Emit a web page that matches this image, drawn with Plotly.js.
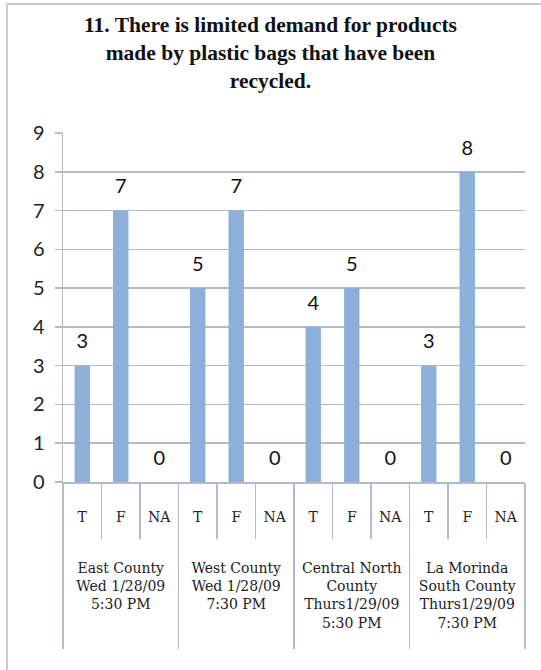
<!DOCTYPE html>
<html>
<head>
<meta charset="utf-8">
<script src="https://cdn.plot.ly/plotly-3.0.1.min.js"></script>
<style>
html,body{margin:0;padding:0;background:#fff;}
#wrap{position:relative;width:541px;height:670px;overflow:hidden;}
#chart{width:541px;height:670px;}
#frame{position:absolute;left:6px;top:3px;width:600px;height:700px;border:2px solid #c9cad6;box-sizing:border-box;pointer-events:none;}
</style>
</head>
<body>
<div id="wrap">
<div id="chart"></div>
<div id="frame"></div>
</div>
<script>
var groups = [
  "East County<br>Wed 1/28/09<br>5:30 PM",
  "West County<br>Wed 1/28/09<br>7:30 PM",
  "Central North<br>County<br>Thurs1/29/09<br>5:30 PM",
  "La Morinda<br>South County<br>Thurs1/29/09<br>7:30 PM"
];
var answers = ["T", "F", "NA"];
var counts = [
  [3, 7, 0],
  [5, 7, 0],
  [4, 5, 0],
  [3, 8, 0]
];
var yTicks = [0, 1, 2, 3, 4, 5, 6, 7, 8, 9];

// blank lines push the group labels below the T/F/NA row (presentation only)
var NB = "\u00a0";
function groupLabel(g) {
  return NB + "<br>" + NB + "<br>" + NB + "<br>" + g + "<br>" + NB;
}

var xGroup = [], xSub = [], yVal = [], yText = [];
groups.forEach(function (g, gi) {
  answers.forEach(function (a, ai) {
    xGroup.push(groupLabel(g));
    xSub.push(a);
    yVal.push(counts[gi][ai]);
    yText.push(String(counts[gi][ai]));
  });
});
var nCat = xSub.length;

var gridCol = "#b5b9cc";

var bars = {
  type: "bar",
  x: [xGroup, xSub],
  y: yVal,
  marker: {color: "#8db0db", line: {width: 0}},
  hoverinfo: "skip",
  showlegend: false
};
var labels = {
  type: "scatter",
  mode: "markers+text",
  x: [xGroup, xSub],
  y: yVal,
  text: yText,
  textposition: "top center",
  textfont: {family: "Lato, 'Liberation Sans', sans-serif", size: 20, color: "#111"},
  marker: {size: 18, opacity: 0},
  cliponaxis: false,
  hoverinfo: "skip",
  showlegend: false
};

var layout = {
  width: 541,
  height: 670,
  paper_bgcolor: "#fff",
  plot_bgcolor: "#fff",
  margin: {l: 63, r: 16, t: 133, b: 188},
  bargap: 0.6,
  title: {
    text: "<b>11. There is limited demand for products<br>made by plastic bags that have been<br>recycled.</b>",
    font: {family: "'Liberation Serif', 'DejaVu Serif', serif", size: 21.5, color: "#111"},
    x: 0.5, xanchor: "center", xref: "container",
    y: 0.952, yanchor: "top", yref: "container"
  },
  xaxis: {
    type: "multicategory",
    range: [-0.5, nCat - 0.5],
    autorange: false,
    showline: true, linecolor: gridCol, linewidth: 1.5,
    ticks: "outside", tickson: "boundaries", ticklen: 55, tickcolor: gridCol, tickwidth: 1.2,
    ticklabelstandoff: 22,
    showdividers: true, dividercolor: gridCol, dividerwidth: 1.5,
    tickfont: {family: "'DejaVu Serif', serif", size: 14, color: "#222"},
    showgrid: false, zeroline: false, fixedrange: true
  },
  yaxis: {
    range: [0, 9],
    tickvals: yTicks,
    showline: true, linecolor: gridCol, linewidth: 1.5,
    showgrid: true, gridcolor: gridCol, gridwidth: 1.5,
    zeroline: false,
    ticks: "outside", ticklen: 7, tickcolor: gridCol, tickwidth: 1.5,
    ticklabelstandoff: 6,
    tickfont: {family: "Lato, 'Liberation Sans', sans-serif", size: 20, color: "#222"},
    fixedrange: true
  }
};

Plotly.newPlot("chart", [bars, labels], layout, {displayModeBar: false, staticPlot: true});
</script>
</body>
</html>
